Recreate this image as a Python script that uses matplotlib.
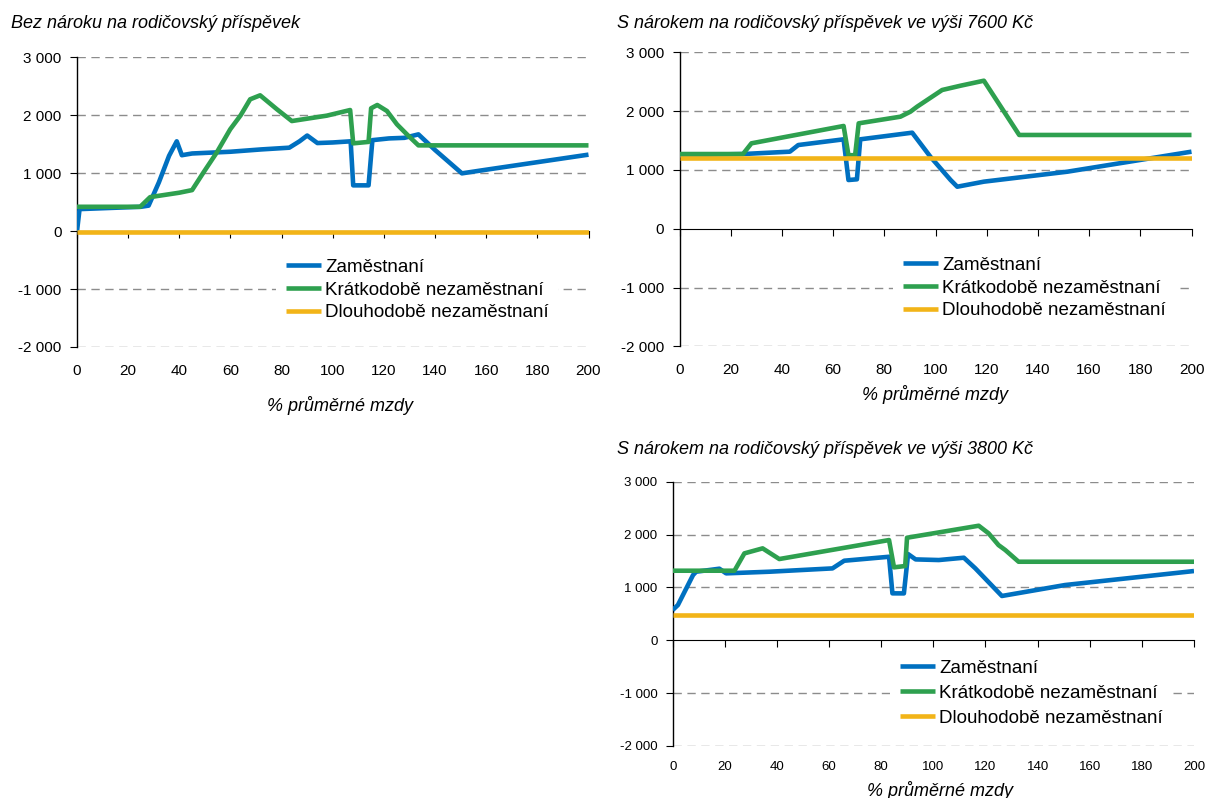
import numpy as np
import matplotlib.pyplot as plt
from matplotlib.ticker import FuncFormatter

plt.rcParams['font.family'] = ['Liberation Sans', 'DejaVu Sans']

# --- data (x = % of average wage) ---
labels = ["Zaměstnaní", "Krátkodobě nezaměstnaní", "Dlouhodobě nezaměstnaní"]
titles = ["Bez nároku na rodičovský příspěvek",
          "S nárokem na rodičovský příspěvek ve výši 7600 Kč",
          "S nárokem na rodičovský příspěvek ve výši 3800 Kč"]
xlabel = "% průměrné mzdy"

# panel 1: without parental allowance
emp1_x = [0, 1, 25, 28, 32, 36, 39, 41, 45, 60, 72, 83, 87, 90, 94, 100, 107, 108,
          114, 115.5, 122, 128, 133.5, 140, 150.5, 160, 180, 200]
emp1_y = [0, 380, 420, 440, 840, 1300, 1550, 1310, 1340, 1370, 1410, 1440, 1550, 1650,
          1520, 1530, 1550, 790, 790, 1570, 1600, 1610, 1670, 1400, 997, 1060, 1190, 1320]
short1_x = [0, 24.7, 28.6, 40, 45, 49.4, 54.6, 59.9, 64, 67.7, 71.6, 78.2, 84, 97.7,
            106.8, 108, 114, 115, 117.4, 121.2, 125.1, 129, 133.5, 200]
short1_y = [420, 420, 587, 663, 708, 1009, 1354, 1757, 2000, 2275, 2344, 2102, 1900,
            1993, 2090, 1515, 1540, 2120, 2177, 2073, 1843, 1670, 1480, 1480]
long1_x = [0, 200]
long1_y = [-20, -20]

# panel 2: allowance 7600 Kč
emp2_x = [0, 24.8, 43.1, 46.4, 64.1, 66, 69.3, 70.6, 90.9, 98, 105.9, 108.5, 118.9,
          151.6, 200]
emp2_y = [1250, 1270, 1310, 1423, 1520, 828, 840, 1520, 1633, 1224, 828, 714, 800,
          970, 1310]
short2_x = [0, 24.8, 28.1, 64.1, 66, 68.6, 70, 86.3, 90.2, 92.8, 102.6, 109.8, 118.9,
            132.7, 200]
short2_y = [1270, 1270, 1452, 1747, 1250, 1250, 1792, 1905, 1990, 2075, 2359, 2432,
            2517, 1594, 1594]
long2_x = [0, 200]
long2_y = [1210, 1210]

# panel 3: allowance 3800 Kč
emp3_x = [0, 2, 7.8, 9, 17.9, 20.5, 37.1, 61.3, 65.8, 83, 84.3, 88.7, 90.3, 93.2,
          102.1, 111.7, 116.1, 126.3, 150.5, 200]
emp3_y = [573, 667, 1234, 1297, 1354, 1266, 1297, 1360, 1505, 1580, 888, 887, 1631,
          1530, 1518, 1562, 1361, 838, 1045, 1310]
short3_x = [0, 23.7, 27.5, 34.5, 40.9, 83, 84.9, 89.2, 89.9, 117.4, 121.2, 125,
            127.6, 132.7, 200]
short3_y = [1316, 1316, 1644, 1739, 1537, 1896, 1380, 1405, 1940, 2167, 2023, 1801,
            1707, 1486, 1486]
long3_x = [0, 200]
long3_y = [480, 480]

colors = ['#0070C0', '#2EA04F', '#F2B418']

W, H = 1206, 798
fig = plt.figure(figsize=(W / 100, H / 100), dpi=100)


def box(x0, x1, ytop, ybot):
    return [x0 / W, 1 - ybot / H, (x1 - x0) / W, (ybot - ytop) / H]


def thousands(v, pos):
    s = f"{abs(int(v)):,}".replace(",", " ")
    return "-" + s if v < 0 else s


panels = [
    dict(rect=box(77, 588.5, 57.3, 347), data=[(emp1_x, emp1_y), (short1_x, short1_y), (long1_x, long1_y)],
         tfs=11, title_xy=(11, 24), xl_xy=(340, 405), leg=(267, 290), lsp=0.3, xpad=12),
    dict(rect=box(679.5, 1191.5, 52.3, 346.3), data=[(emp2_x, emp2_y), (short2_x, short2_y), (long2_x, long2_y)],
         tfs=11, title_xy=(617, 23), xl_xy=(935, 395), leg=(884, 288), lsp=0.3, xpad=12),
    dict(rect=box(672.7, 1194, 481.7, 746), data=[(emp3_x, emp3_y), (short3_x, short3_y), (long3_x, long3_y)],
         tfs=9.5, title_xy=(617, 450), xl_xy=(940, 790), leg=(881, 693), lsp=0.42, xpad=11),
]

for i, p in enumerate(panels):
    ax = fig.add_axes(p['rect'])
    for (xs, ys), c, lab in zip(p['data'], colors, labels):
        ax.plot(xs, ys, color=c, lw=3.3, label=lab, solid_joinstyle='round',
                solid_capstyle='butt', zorder=3)
    ax.set_xlim(0, 200)
    ax.set_ylim(-2000, 3000)
    ax.set_yticks(np.arange(-2000, 3001, 1000))
    ax.yaxis.set_major_formatter(FuncFormatter(thousands))
    ax.set_xticks(np.arange(0, 201, 20))
    for v in [-2000, -1000, 1000, 2000, 3000]:
        ax.axhline(v, color='#8c8c8c', lw=1, ls=(0, (6, 4)), zorder=1)
    for s in ['top', 'right']:
        ax.spines[s].set_visible(False)
    ax.spines['bottom'].set_position(('data', 0))
    ax.spines['bottom'].set_zorder(2)
    ax.spines['left'].set_linewidth(1)
    ax.tick_params(axis='x', direction='out', length=5, labelbottom=False)
    ax.tick_params(axis='y', direction='out', length=5, pad=6, labelsize=p['tfs'])

    sec = ax.secondary_xaxis('bottom')
    sec.set_xticks(np.arange(0, 201, 20))
    sec.xaxis.set_major_formatter(FuncFormatter(lambda v, pos: f"{int(v)}"))
    sec.tick_params(length=0, pad=p['xpad'], labelsize=p['tfs'])
    sec.spines['bottom'].set_visible(False)

    lx, ly = p['leg']
    leg = ax.legend(loc='center left', bbox_to_anchor=(lx / W, 1 - ly / H),
                    bbox_transform=fig.transFigure, fontsize=13.5, frameon=True,
                    framealpha=1, facecolor='white', edgecolor='none',
                    borderpad=0.5, handlelength=1.9, handletextpad=0.2,
                    labelspacing=p['lsp'], fancybox=False)
    leg.set_zorder(4)

    tx, ty = p['title_xy']
    fig.text(tx / W, 1 - ty / H, titles[i], fontsize=13, style='italic',
             ha='left', va='center')
    xx, xy = p['xl_xy']
    fig.text(xx / W, 1 - xy / H, xlabel, fontsize=13, style='italic',
             ha='center', va='center')

fig.savefig('out.png', dpi=100)
